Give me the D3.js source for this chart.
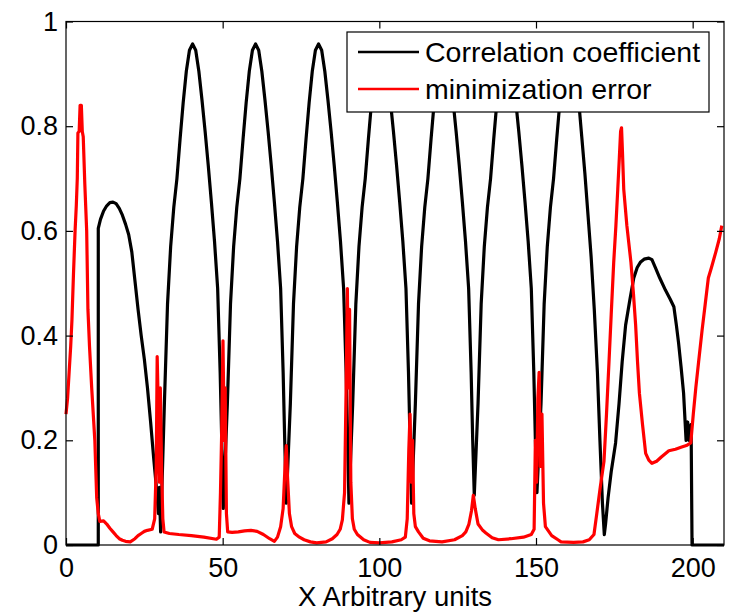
<!DOCTYPE html>
<html>
<head>
<meta charset="utf-8">
<script src="https://cdn.jsdelivr.net/npm/d3@7"></script>
<style>
	body { margin: 0; background: #fff; }
	svg { display: block; }
</style>
</head>
<body>
<div class="chart"></div>
<script>

// correlation coefficient as [x, value]
const corrData = [
	[0, 0], [10.3, 0], [10.3, 0.605], [11, 0.622], [12, 0.638], [13, 0.648], [14, 0.654], [15, 0.655],
	[16, 0.652], [17, 0.643], [18, 0.63], [19, 0.613], [20, 0.593], [21, 0.56], [22, 0.505], [23, 0.45],
	[24, 0.4], [25, 0.355], [26, 0.3], [27, 0.235], [28, 0.165], [29, 0.1], [29.5, 0.06], [29.8, 0.11], [30.2, 0.025],
	[31.4, 0.27], [32.4, 0.46], [33.4, 0.57], [34.4, 0.645], [35.4, 0.7], [36.4, 0.775], [37.4, 0.845], [38.4, 0.905],
	[39.4, 0.945], [40.4, 0.957], [41.4, 0.945], [42.4, 0.905], [43.4, 0.85], [44.4, 0.79], [45.4, 0.725], [46.4, 0.655],
	[47.4, 0.58], [48.4, 0.49], [49.2, 0.33], [49.7, 0.2], [50.2, 0.07],
	[51.5, 0.27], [52.5, 0.46], [53.5, 0.57], [54.5, 0.645], [55.5, 0.7], [56.5, 0.775], [57.5, 0.845], [58.5, 0.905],
	[59.5, 0.945], [60.5, 0.957], [61.5, 0.945], [62.5, 0.905], [63.5, 0.85], [64.5, 0.79], [65.5, 0.725], [66.5, 0.655],
	[67.5, 0.58], [68.5, 0.49], [69.3, 0.33], [69.8, 0.2], [70.3, 0.08],
	[71.6, 0.27], [72.6, 0.46], [73.6, 0.57], [74.6, 0.645], [75.6, 0.7], [76.6, 0.775], [77.6, 0.845], [78.6, 0.905],
	[79.6, 0.945], [80.6, 0.957], [81.6, 0.945], [82.6, 0.905], [83.6, 0.85], [84.6, 0.79], [85.6, 0.725], [86.6, 0.655],
	[87.6, 0.58], [88.6, 0.49], [89.4, 0.33], [89.9, 0.2], [90.3, 0.08],
	[91.5, 0.27], [92.5, 0.46], [93.5, 0.57], [94.5, 0.645], [95.5, 0.7], [96.5, 0.775], [97.5, 0.845], [98.5, 0.905],
	[99.5, 0.945], [100.5, 0.957], [101.5, 0.945], [102.5, 0.905], [103.5, 0.85], [104.5, 0.79], [105.5, 0.725], [106.5, 0.655],
	[107.5, 0.58], [108.5, 0.49], [109.3, 0.33], [109.8, 0.2], [110.3, 0.08],
	[111.5, 0.27], [112.5, 0.46], [113.5, 0.57], [114.5, 0.645], [115.5, 0.7], [116.5, 0.775], [117.5, 0.845], [118.5, 0.905],
	[119.5, 0.945], [120.5, 0.957], [121.5, 0.945], [122.5, 0.905], [123.5, 0.85], [124.5, 0.79], [125.5, 0.725], [126.5, 0.655],
	[127.5, 0.58], [128.5, 0.49], [129.3, 0.33], [129.8, 0.2], [130.3, 0.095],
	[131.5, 0.27], [132.5, 0.46], [133.5, 0.57], [134.5, 0.645], [135.5, 0.7], [136.5, 0.775], [137.5, 0.845], [138.5, 0.905],
	[139.5, 0.945], [140.5, 0.957], [141.5, 0.945], [142.5, 0.905], [143.5, 0.85], [144.5, 0.79], [145.5, 0.725], [146.5, 0.655],
	[147.5, 0.58], [148.5, 0.49], [149.3, 0.33], [149.8, 0.2], [150.3, 0.1],
	[151.6, 0.27], [152.6, 0.46], [153.6, 0.57], [154.6, 0.645], [155.6, 0.7], [156.6, 0.775], [157.6, 0.845], [158.6, 0.905],
	[159.6, 0.945], [160.6, 0.957], [161.6, 0.945], [162.6, 0.905], [163.6, 0.85], [164.6, 0.78], [165.6, 0.71], [166.6, 0.63],
	[167.6, 0.55], [168.6, 0.45], [169.6, 0.33], [170.4, 0.2], [171.2, 0.08], [171.8, 0.02],
	[172.2, 0.04], [173, 0.09], [174, 0.14], [175.4, 0.195], [176.5, 0.27], [177.5, 0.35], [178.6, 0.42], [180, 0.47],
	[181.2, 0.51], [182.3, 0.53], [183.3, 0.54], [184.5, 0.546], [186, 0.548], [187, 0.545], [188.1, 0.53], [189.5, 0.51],
	[191.3, 0.487], [192.8, 0.47], [194, 0.455], [194.8, 0.42], [195.5, 0.386], [196.3, 0.34], [197.1, 0.29], [197.9, 0.2],
	[198.4, 0.235], [198.8, 0.2], [199.5, 0.23], [199.8, 0], [210, 0]
];

// minimization error
const errData = [
	[0, 0.25], [0.5, 0.28], [1, 0.33], [1.5, 0.38], [1.9, 0.43], [2.4, 0.52], [2.9, 0.6], [3.3, 0.65], [3.6, 0.7],
	[3.8, 0.787], [4.2, 0.79], [4.5, 0.84], [4.9, 0.84], [5.2, 0.79], [5.5, 0.78], [6, 0.69], [6.6, 0.6], [7, 0.45],
	[7.5, 0.38], [8.2, 0.3], [9.2, 0.2], [9.8, 0.09], [10.3, 0.06], [10.8, 0.045], [12, 0.046], [13, 0.04], [14, 0.032],
	[15, 0.025], [16, 0.018], [17, 0.012], [18, 0.009], [19, 0.007], [20.5, 0.006], [22, 0.012], [23, 0.018], [24, 0.022],
	[25, 0.026], [26, 0.028], [27.5, 0.03], [28.3, 0.05], [28.8, 0.15], [29.1, 0.36], [29.5, 0.25], [29.8, 0.12],
	[30.1, 0.3], [30.5, 0.15], [30.9, 0.05], [31.3, 0.025], [33, 0.022], [36, 0.02], [40, 0.018], [44, 0.015], [48, 0.011],
	[48.9, 0.015], [49.3, 0.1], [49.7, 0.22], [50.1, 0.39], [50.5, 0.2], [50.8, 0.3], [51.2, 0.06], [51.6, 0.025],
	[53, 0.024], [55, 0.025], [57, 0.027], [59, 0.028], [61, 0.026], [63, 0.02], [65, 0.012], [66.5, 0.007], [67.5, 0.015],
	[68.5, 0.035], [69.3, 0.07], [69.9, 0.15], [70.3, 0.19], [70.7, 0.13], [71.3, 0.06], [72, 0.035], [73, 0.022],
	[74.5, 0.015], [76, 0.01], [78, 0.006], [80, 0.004], [83, 0.006], [85, 0.012], [86.5, 0.02], [87.5, 0.03],
	[88.2, 0.048], [88.9, 0.1], [89.4, 0.3], [89.8, 0.49], [90.1, 0.3], [90.5, 0.45], [90.9, 0.12], [91.4, 0.05],
	[92, 0.03], [93, 0.02], [95, 0.01], [97, 0.005], [100, 0.004], [104, 0.006], [107, 0.01], [108.3, 0.015],
	[108.9, 0.05], [109.4, 0.18], [109.8, 0.25], [110.2, 0.12], [110.6, 0.2], [111, 0.06], [111.5, 0.035], [112.5, 0.025],
	[114, 0.013], [116, 0.008], [120, 0.006], [124, 0.01], [126.5, 0.018], [127.6, 0.025], [128.6, 0.04], [129.4, 0.065],
	[130, 0.095], [130.6, 0.07], [131.5, 0.04], [133, 0.028], [134, 0.023], [136, 0.014], [138, 0.01], [142, 0.012],
	[146, 0.015], [148.5, 0.02], [149.4, 0.03], [149.8, 0.2], [150.2, 0.12], [150.6, 0.28], [151, 0.33], [151.4, 0.15],
	[151.9, 0.25], [152.4, 0.08], [153, 0.035], [155, 0.018], [157, 0.01], [158, 0.006], [162, 0.005], [165, 0.006],
	[167, 0.01], [168.5, 0.02], [169.4, 0.06], [170.5, 0.11], [171.7, 0.16], [172.5, 0.25], [173.3, 0.35], [174, 0.44],
	[174.8, 0.54], [175.5, 0.61], [176.1, 0.68], [176.6, 0.74], [177, 0.79], [177.3, 0.797], [177.6, 0.75], [178, 0.68],
	[179, 0.61], [180.3, 0.54], [181.1, 0.48], [181.8, 0.42], [182.4, 0.35], [183, 0.29], [184, 0.23], [185, 0.175],
	[186, 0.162], [187, 0.156], [188.5, 0.16], [190, 0.168], [192.4, 0.18], [194.5, 0.183], [196.5, 0.187], [198, 0.19],
	[199.4, 0.195], [200.2, 0.25], [201, 0.3], [201.9, 0.35], [203, 0.41], [204, 0.46], [205, 0.51], [206, 0.53],
	[207.4, 0.56], [208.5, 0.585], [209.3, 0.61]
];

const xTicks = [0, 50, 100, 150, 200];
const yTicks = [0, 0.2, 0.4, 0.6, 0.8, 1];
const legendLabels = ['Correlation coefficient', 'minimization error'];
const legendColors = ['#000000', '#ff0000'];
const xLabel = 'X Arbitrary units';

const width = 731;
const height = 613;
const margin = { left: 66, right: 7, top: 21.5, bottom: 68 };
const font = '"Liberation Sans", Arial, sans-serif';

let svg = d3.select('.chart')
	.append('svg')
	.attr('width', width)
	.attr('height', height);

let x = d3.scaleLinear()
	.domain([0, 210])
	.range([margin.left, width - margin.right]);

let y = d3.scaleLinear()
	.domain([0, 1])
	.range([height - margin.bottom, margin.top]);

svg.append('defs')
	.append('clipPath')
	.attr('id', 'plotClip')
	.append('rect')
	.attr('x', x(0) - 2)
	.attr('y', y(1) - 2)
	.attr('width', x(210) - x(0) + 4)
	.attr('height', y(0) - y(1) + 4);

let line = d3.line()
	.x(d => x(d[0]))
	.y(d => y(d[1]));

let plot = svg.append('g')
	.attr('clip-path', 'url(#plotClip)');

plot.append('path')
	.datum(corrData)
	.attr('d', line)
	.attr('fill', 'none')
	.attr('stroke', legendColors[0])
	.attr('stroke-width', 3.2)
	.attr('stroke-linejoin', 'round');

plot.append('path')
	.datum(errData)
	.attr('d', line)
	.attr('fill', 'none')
	.attr('stroke', legendColors[1])
	.attr('stroke-width', 3.2)
	.attr('stroke-linejoin', 'round');

// axes, ticks pointing inwards on all four sides
svg.append('g')
	.attr('transform', `translate(0,${y(0)})`)
	.call(d3.axisBottom(x).tickValues(xTicks).tickSizeInner(-7).tickSizeOuter(0).tickPadding(13));

svg.append('g')
	.attr('transform', `translate(${x(0)},0)`)
	.call(d3.axisLeft(y).tickValues(yTicks).tickFormat(d => d).tickSizeInner(-7).tickSizeOuter(0).tickPadding(8));

svg.append('g')
	.attr('transform', `translate(0,${y(1)})`)
	.call(d3.axisTop(x).tickValues(xTicks).tickFormat('').tickSizeInner(-7).tickSizeOuter(0));

svg.append('g')
	.attr('transform', `translate(${x(210)},0)`)
	.call(d3.axisRight(y).tickValues(yTicks).tickFormat('').tickSizeInner(-7).tickSizeOuter(0));

svg.selectAll('.domain').remove();
svg.selectAll('.tick line').attr('stroke', '#000').attr('stroke-width', 1.2);

svg.selectAll('.tick text')
	.attr('font-family', font)
	.attr('font-size', '27px')
	.attr('fill', '#000');

svg.append('rect')
	.attr('x', x(0))
	.attr('y', y(1))
	.attr('width', x(210) - x(0))
	.attr('height', y(0) - y(1))
	.attr('fill', 'none')
	.attr('stroke', '#000')
	.attr('stroke-width', 1.2);

svg.append('text')
	.text(xLabel)
	.attr('x', (x(0) + x(210)) / 2)
	.attr('y', 606)
	.attr('text-anchor', 'middle')
	.attr('font-family', font)
	.attr('font-size', '27.5px');

// legend
let legend = svg.append('g');

legend.append('rect')
	.attr('x', 347)
	.attr('y', 32)
	.attr('width', 362)
	.attr('height', 80)
	.attr('fill', '#fff')
	.attr('stroke', '#000')
	.attr('stroke-width', 1.2);

legend.selectAll('line')
	.data(legendLabels)
	.join('line')
	.attr('x1', 358)
	.attr('x2', 419)
	.attr('y1', (d, i) => 52 + i * 37)
	.attr('y2', (d, i) => 52 + i * 37)
	.attr('stroke', (d, i) => legendColors[i])
	.attr('stroke-width', 2.5);

legend.selectAll('text')
	.data(legendLabels)
	.join('text')
	.text(d => d)
	.attr('x', 425)
	.attr('y', (d, i) => 62 + i * 37)
	.attr('font-family', font)
	.attr('font-size', '28.5px');

</script>
</body>
</html>
